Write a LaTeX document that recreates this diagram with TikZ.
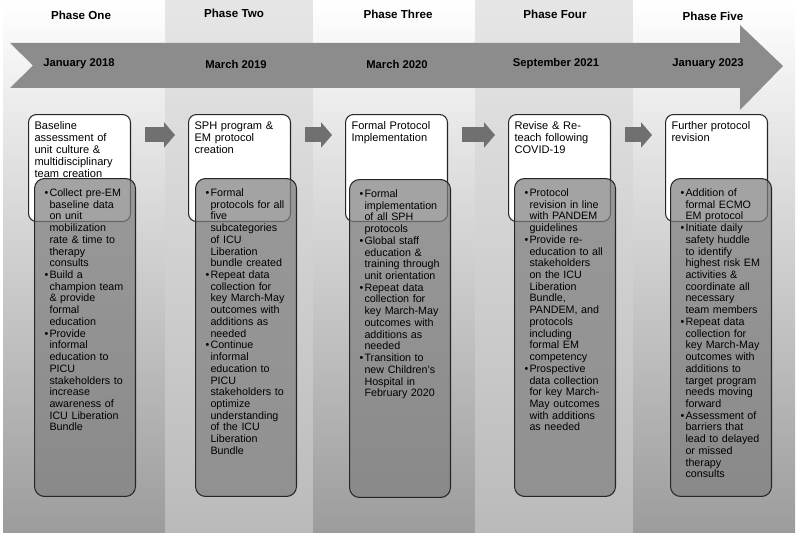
\documentclass[tikz,border=0pt]{standalone}
\usepackage{fontspec}
\setmainfont{Liberation Sans}
\usetikzlibrary{arrows.meta,positioning,calc}

\definecolor{bandgray}{HTML}{8C8C8C}
\definecolor{detailgray}{HTML}{808080}
\definecolor{linegray}{HTML}{262626}
\definecolor{stepgray}{HTML}{707070}
\definecolor{colshade}{HTML}{9C9C9C}
\definecolor{colshadelight}{HTML}{E6E6E6}
\definecolor{colshadeend}{HTML}{BABABA}

% bullet item with hanging indent
\newcommand{\bul}[1]{\leftskip=0.1cm\hangindent=0.1cm\hangafter=1\noindent\makebox[0.1cm][l]{\textbullet}#1\par}

\tikzset{
  phase/.style={font=\bfseries\fontsize{6.6}{8}\selectfont},
  datelbl/.style={font=\bfseries\fontsize{6.4}{8}\selectfont},
  titlebox/.style={draw=linegray, line width=0.6pt, fill=white, rounded corners=0.16cm,
    anchor=north west, align=left, text width=1.8cm, inner xsep=0.12cm, inner ysep=0.1cm,
    text height=0.2cm, text depth=1.74cm, font=\fontsize{6.3}{6.85}\selectfont},
  detailbox/.style={draw=linegray, line width=0.6pt, fill=detailgray, fill opacity=0.72,
    text opacity=1, rounded corners=0.2cm, anchor=north west, align=left, text width=1.82cm,
    inner xsep=0.1cm, inner ysep=0.1cm, text height=0.26cm, text depth=5.9cm,
    font=\fontsize{6.1}{6.67}\selectfont},
  nextarrow/.style={draw=stepgray, line width=0.3cm, -{Triangle[width=0.5cm,length=0.22cm]},
    shorten <=0.28cm, shorten >=0.26cm}
}

\begin{document}
\begin{tikzpicture}[x=0.02cm,y=-0.02cm]
      \useasboundingbox (0,0) rectangle (800,537);

      % phase columns
      \shade[top color=white, bottom color=colshade] (3,0) rectangle (165,532);
      \shade[top color=colshadelight, bottom color=colshadeend] (165,0) rectangle (313,532);
      \shade[top color=white, bottom color=colshade] (313,0) rectangle (475,532);
      \shade[top color=colshadelight, bottom color=colshadeend] (475,0) rectangle (633,532);
      \shade[top color=white, bottom color=colshade] (633,0) rectangle (795,532);

      % timeline arrow
      \fill[bandgray] (10,43) -- (740,43) -- (740,25) -- (783,66) -- (740,110) -- (740,88)
        -- (10,88) -- (33,65.5) -- cycle;

      % phases and dates
      \node[phase] (h1) at (81,15) {Phase One};
      \node[phase] (h2) at (234,13) {Phase Two};
      \node[phase] (h3) at (398,14) {Phase Three};
      \node[phase] (h4) at (555,14) {Phase Four};
      \node[phase] (h5) at (713,16) {Phase Five};
      \node[datelbl] (d1) at (79,64) {January 2018};
      \node[datelbl] (d2) at (236,64) {March 2019};
      \node[datelbl] (d3) at (397,64) {March 2020};
      \node[datelbl] (d4) at (556,64) {September 2021};
      \node[datelbl] (d5) at (708,64) {January 2023};

      % phase goals
      \node[titlebox] (t1) at (28,114) {Baseline\\ assessment of\\ unit culture \&\\ multidisciplinary\\ team creation};
      \node[titlebox] (t2) at (188,114) {SPH program \&\\ EM protocol\\ creation};
      \node[titlebox] (t3) at (345,114) {Formal Protocol\\ Implementation};
      \node[titlebox] (t4) at (508,114) {Revise \& Re-\\ teach following\\ COVID-19};
      \node[titlebox] (t5) at (665,114) {Further protocol\\ revision};

      % phase activities
      \node[detailbox] (g1) at (34,178) {\bul{Collect pre-EM\newline baseline data\newline on unit\newline mobilization\newline rate \& time to\newline therapy\newline consults}%
        \bul{Build a\newline champion team\newline \& provide\newline formal\newline education}%
        \bul{Provide\newline informal\newline education to\newline PICU\newline stakeholders to\newline increase\newline awareness of\newline ICU Liberation\newline Bundle}};
      \node[detailbox] (g2) at (195,178) {\bul{Formal\newline protocols for all\newline five\newline subcategories\newline of ICU\newline Liberation\newline bundle created}%
        \bul{Repeat data\newline collection for\newline key March-May\newline outcomes with\newline additions as\newline needed}%
        \bul{Continue\newline informal\newline education to\newline PICU\newline stakeholders to\newline optimize\newline understanding\newline of the ICU\newline Liberation\newline Bundle}};
      \node[detailbox] (g3) at (349,179) {\bul{Formal\newline implementation\newline of all SPH\newline protocols}%
        \bul{Global staff\newline education \&\newline training through\newline unit orientation}%
        \bul{Repeat data\newline collection for\newline key March-May\newline outcomes with\newline additions as\newline needed}%
        \bul{Transition to\newline new Children's\newline Hospital in\newline February 2020}};
      \node[detailbox] (g4) at (514,178) {\bul{Protocol\newline revision in line\newline with PANDEM\newline guidelines}%
        \bul{Provide re-\newline education to all\newline stakeholders\newline on the ICU\newline Liberation\newline Bundle,\newline PANDEM, and\newline protocols\newline including\newline formal EM\newline competency}%
        \bul{Prospective\newline data collection\newline for key March-\newline May outcomes\newline with additions\newline as needed}};
      \node[detailbox] (g5) at (670,178) {\bul{Addition of\newline formal ECMO\newline EM protocol}%
        \bul{Initiate daily\newline safety huddle\newline to identify\newline highest risk EM\newline activities \&\newline coordinate all\newline necessary\newline team members}%
        \bul{Repeat data\newline collection for\newline key March-May\newline outcomes with\newline additions to\newline target program\newline needs moving\newline forward}%
        \bul{Assessment of\newline barriers that\newline lead to delayed\newline or missed\newline therapy\newline consults}};

      % steps between phases
      \draw[nextarrow] ([yshift=-0.42cm]t1.north east) -- ([yshift=-0.42cm]t2.north west);
      \draw[nextarrow] ([yshift=-0.42cm]t2.north east) -- ([yshift=-0.42cm]t3.north west);
      \draw[nextarrow] ([yshift=-0.42cm]t3.north east) -- ([yshift=-0.42cm]t4.north west);
      \draw[nextarrow] ([yshift=-0.42cm]t4.north east) -- ([yshift=-0.42cm]t5.north west);
\end{tikzpicture}
\end{document}
